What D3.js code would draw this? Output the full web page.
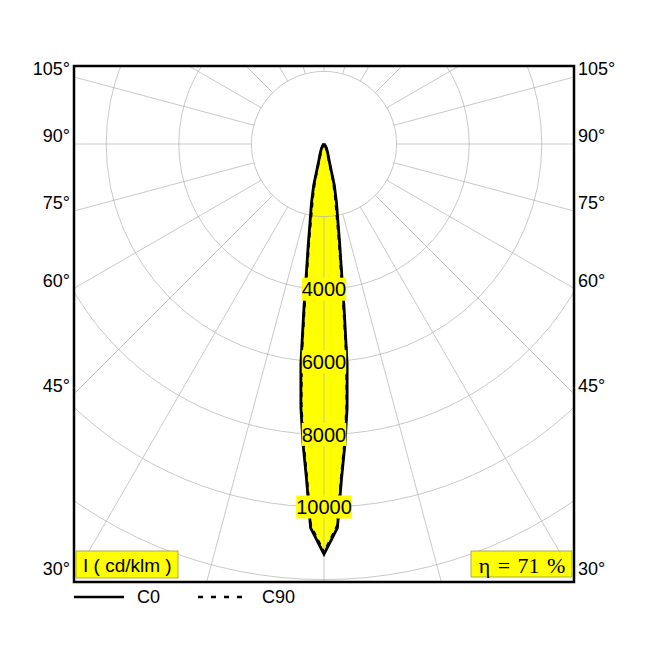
<!DOCTYPE html>
<html>
<head>
<meta charset="utf-8">
<title>polar</title>
<style>body{margin:0;background:#fff}</style>
</head>
<body>
<div id="chart"></div>
<script src="https://cdn.jsdelivr.net/npm/d3@7"></script>
<script>
// light distribution, cd/klm, half-plane angles in degrees from nadir
var angles = [0, 2, 3, 4, 5, 6, 7, 8, 9, 10, 12, 14, 15, 17, 20, 25, 30, 40, 50, 60, 70, 80, 90];
var c0  = [11300, 10580, 9230, 8280, 7300, 6100, 4520, 3400, 2750, 2240, 1660, 1180, 800, 500, 340, 210, 130, 50, 20, 5, 0, 0, 0];
var c90 = [11250, 10520, 9150, 8200, 7200, 5950, 4350, 3250, 2600, 2080, 1500, 1050, 720, 450, 300, 180, 100, 35, 10, 0, 0, 0, 0];

var ringLabels = [4000, 6000, 8000, 10000];
var angleLabels = [105, 90, 75, 60, 45, 30];
var rings = d3.range(2000, 22001, 2000);
var spokes = d3.range(0, 360, 15);
var eta = 71;

var W = 650, H = 650;
var box = {left: 74, right: 574, top: 66, bottom: 582};
var cx = 324, cy = 144;
var font = '"Liberation Sans", Arial, sans-serif';

var r = d3.scaleLinear().domain([0, 10000]).range([0, 363]);

var svg = d3.select('#chart').append('svg')
    .attr('width', W).attr('height', H)
    .style('background', '#fff');

svg.append('defs').append('clipPath').attr('id', 'frame')
    .append('rect')
    .attr('x', box.left).attr('y', box.top)
    .attr('width', box.right - box.left).attr('height', box.bottom - box.top);

var plot = svg.append('g').attr('clip-path', 'url(#frame)');
var g = plot.append('g').attr('transform', 'translate(' + cx + ',' + cy + ')');

// full outline: left half (C180 mirror) then right half
function outline(vals) {
    var pts = [];
    for (var i = angles.length - 1; i >= 0; i--) pts.push([Math.PI + angles[i] * Math.PI / 180, r(vals[i])]);
    for (var j = 1; j < angles.length; j++) pts.push([Math.PI - angles[j] * Math.PI / 180, r(vals[j])]);
    return pts;
}
var radial = d3.lineRadial().angle(d => d[0]).radius(d => d[1]).curve(d3.curveLinear);

// fill
g.append('path').attr('d', radial(outline(c0)) + 'Z').attr('fill', '#ffff00').attr('stroke', 'none');
g.append('path').attr('d', radial(outline(c90)) + 'Z').attr('fill', '#ffff00').attr('stroke', 'none');

// grid on top of the fill
g.selectAll('circle.ring').data(rings).enter().append('circle')
    .attr('class', 'ring')
    .attr('r', d => r(d))
    .attr('fill', 'none')
    .attr('stroke', '#b2b2b2')
    .attr('stroke-width', 0.7);

g.selectAll('line.spoke').data(spokes).enter().append('line')
    .attr('class', 'spoke')
    .attr('x1', d => r(2000) * Math.sin(d * Math.PI / 180))
    .attr('y1', d => r(2000) * Math.cos(d * Math.PI / 180))
    .attr('x2', d => r(30000) * Math.sin(d * Math.PI / 180))
    .attr('y2', d => r(30000) * Math.cos(d * Math.PI / 180))
    .attr('stroke', '#b2b2b2')
    .attr('stroke-width', 0.7);

// curves
g.append('path').attr('d', radial(outline(c90)))
    .attr('fill', 'none').attr('stroke', '#000')
    .attr('stroke-width', 2.6).attr('stroke-dasharray', '5,5');
g.append('path').attr('d', radial(outline(c0)))
    .attr('fill', 'none').attr('stroke', '#000')
    .attr('stroke-width', 2.8).attr('stroke-linejoin', 'miter');

// ring labels with yellow background
ringLabels.forEach(function(v) {
    var lab = g.append('g').attr('transform', 'translate(0,' + r(v) + ')');
    var t = lab.append('text')
        .attr('text-anchor', 'middle')
        .attr('dy', '0.36em')
        .style('font-family', font)
        .style('font-size', '20px')
        .text(v);
    var bb = t.node().getBBox();
    lab.insert('rect', 'text')
        .attr('x', bb.x).attr('y', -11.5)
        .attr('width', bb.width).attr('height', 23)
        .attr('fill', '#ffff00');
});

// frame
svg.append('rect')
    .attr('x', box.left).attr('y', box.top)
    .attr('width', box.right - box.left).attr('height', box.bottom - box.top)
    .attr('fill', 'none').attr('stroke', '#000').attr('stroke-width', 2.5);

// angle labels where the spokes meet the side edges
var half = cx - box.left;
angleLabels.forEach(function(a) {
    var rad = a * Math.PI / 180;
    var y = cy + half * Math.cos(rad) / Math.sin(rad) - 8;
    svg.append('text').attr('x', box.left - 4).attr('y', y).attr('dy', '0.35em')
        .attr('text-anchor', 'end')
        .style('font-family', font).style('font-size', '18px')
        .text(a + '°');
    svg.append('text').attr('x', box.right + 4).attr('y', y).attr('dy', '0.35em')
        .attr('text-anchor', 'start')
        .style('font-family', font).style('font-size', '18px')
        .text(a + '°');
});

// unit box
svg.append('rect').attr('x', 76).attr('y', 551).attr('width', 102).attr('height', 27)
    .attr('fill', '#ffff00').attr('stroke', '#9a9a30').attr('stroke-width', 0.8);
svg.append('text').attr('x', 83).attr('y', 572)
    .style('font-family', font).style('font-size', '19px')
    .text('I ( cd/klm )');

// efficiency box
svg.append('rect').attr('x', 471).attr('y', 551).attr('width', 101).attr('height', 26)
    .attr('fill', '#ffff00').attr('stroke', '#9a9a30').attr('stroke-width', 0.8);
svg.append('text').attr('x', 522).attr('y', 573)
    .attr('text-anchor', 'middle')
    .style('font-family', '"Liberation Serif", "Times New Roman", serif').style('font-size', '22px')
    .style('word-spacing', '2px')
    .text('η = ' + eta + ' %');

// legend
svg.append('line').attr('x1', 74).attr('x2', 124).attr('y1', 597).attr('y2', 597)
    .attr('stroke', '#000').attr('stroke-width', 2.4);
svg.append('text').attr('x', 137).attr('y', 597).attr('dy', '0.35em')
    .style('font-family', font).style('font-size', '18px').text('C0');
svg.append('line').attr('x1', 198).attr('x2', 242).attr('y1', 597).attr('y2', 597)
    .attr('stroke', '#000').attr('stroke-width', 2.4).attr('stroke-dasharray', '5,8');
svg.append('text').attr('x', 262).attr('y', 597).attr('dy', '0.35em')
    .style('font-family', font).style('font-size', '18px').text('C90');
</script>
</body>
</html>
